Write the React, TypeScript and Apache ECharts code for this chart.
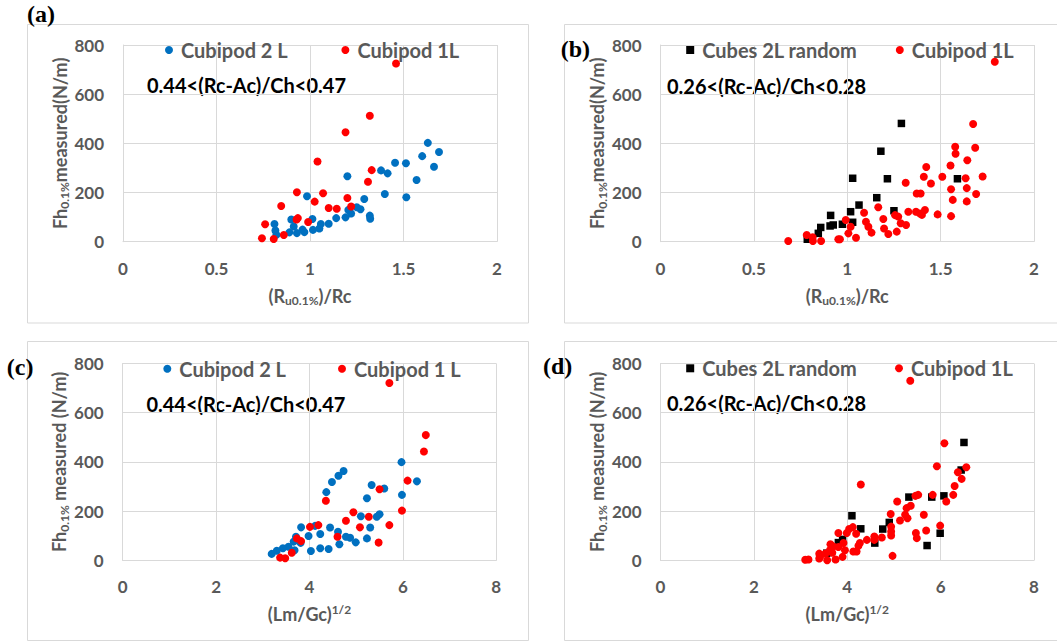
import React, { useEffect, useRef } from 'react';
import * as echarts from 'echarts';

const FONT = 'Lato, "Open Sans", sans-serif';
const GRAY = '#595959';
const GRID = '#d9d9d9';
const BLUE = '#0070C0';
const RED = '#FF0000';
const BLACK = '#000000';

// tick labels
const X_TICKS_RATIO = [0, 0.5, 1, 1.5, 2];
const X_TICKS_LM = [0, 2, 4, 6, 8];
const Y_TICKS = [0, 200, 400, 600, 800];

// legend / series names
const NAME_CUB2 = 'Cubipod 2 L';
const NAME_CUB1 = 'Cubipod 1L';
const NAME_CUB1_C = 'Cubipod 1 L';
const NAME_CUBES = 'Cubes 2L random';

const NOTE_A = '0.44<(Rc-Ac)/Ch<0.47';
const NOTE_B = '0.26<(Rc-Ac)/Ch<0.28';
const PANEL_LABELS = ['(a)', '(b)', '(c)', '(d)'];

// (a) Fh vs Ru/Rc, 0.44<(Rc-Ac)/Ch<0.47
const A_CUB2: [number, number][] = [
  [1.63, 402], [1.69, 365], [1.6, 348], [1.455, 321], [1.513, 319], [1.663, 305], [1.38, 290], [1.415, 278],
  [1.2, 266], [1.57, 251], [1.4, 194], [1.515, 181], [0.984, 185], [1.29, 174], [1.25, 140], [1.27, 132],
  [1.205, 129], [1.22, 115], [1.19, 99], [1.14, 96], [1.32, 106], [1.322, 93], [1.1, 73], [1.058, 72],
  [1.013, 92], [0.9, 90], [0.913, 62], [0.81, 72], [0.815, 46], [0.82, 28], [0.89, 38], [0.93, 35],
  [0.96, 49], [0.97, 39], [1.016, 48], [1.05, 54],
];
const A_CUB1: [number, number][] = [
  [1.46, 725], [1.32, 512], [1.19, 445], [1.04, 326], [1.33, 291], [1.31, 244], [0.93, 201], [1.07, 197],
  [1.025, 163], [1.2, 178], [0.846, 145], [1.1, 137], [1.143, 134], [1.22, 143], [0.935, 96], [0.928, 90],
  [0.99, 80], [0.76, 71], [0.86, 27], [0.743, 14], [0.806, 11],
];

// (b) Fh vs Ru/Rc, 0.26<(Rc-Ac)/Ch<0.28
const B_CUBES: [number, number][] = [
  [1.29, 481], [1.18, 368], [1.029, 258], [1.215, 256], [1.59, 256], [1.158, 179], [1.063, 149], [1.25, 126],
  [1.018, 122], [0.911, 107], [1.029, 79], [0.974, 71], [0.925, 68], [0.908, 64], [0.858, 58], [0.845, 34],
  [0.786, 10],
];
const B_CUB1: [number, number][] = [
  [1.79, 732], [1.674, 479], [1.578, 386], [1.58, 358], [1.685, 382], [1.643, 331], [1.423, 304], [1.553, 310],
  [1.41, 264], [1.509, 264], [1.725, 265], [1.634, 258], [1.313, 240], [1.448, 237], [1.556, 213], [1.64, 218],
  [1.372, 196], [1.393, 196], [1.69, 194], [1.565, 170], [1.64, 164], [1.09, 118], [1.166, 140], [1.327, 122],
  [1.368, 122], [1.39, 115], [1.416, 129], [1.4, 109], [1.484, 111], [1.556, 104], [1.256, 108], [1.273, 102],
  [1.286, 75], [1.193, 92], [1.1, 81], [1.113, 61], [1.13, 37], [1.315, 68], [1.197, 54], [1.265, 41],
  [1.22, 31], [0.992, 88], [1.018, 61], [1.006, 34], [1.047, 16], [0.952, 10], [0.961, 10], [0.86, 3],
  [0.815, 18], [0.783, 27], [0.816, 3], [0.684, 3],
];

// (c) Fh vs (Lm/Gc)^1/2, 0.44<(Rc-Ac)/Ch<0.47
const C_CUB2: [number, number][] = [
  [5.97, 399], [4.73, 363], [4.62, 344], [4.48, 318], [4.36, 277], [6.3, 321], [5.33, 306], [5.6, 292],
  [5.98, 266], [5.23, 252], [5.1, 179], [5.5, 187], [5.44, 177], [5.3, 133], [4.44, 133], [3.82, 134],
  [4.12, 140], [4.61, 116], [4.23, 107], [3.98, 99], [3.71, 96], [4.78, 96], [4.87, 92], [5.23, 89],
  [4.99, 73], [4.64, 65], [4.23, 49], [4.41, 46], [4.03, 38], [3.81, 71], [3.66, 76], [3.68, 41],
  [3.55, 55], [3.43, 49], [3.3, 39], [3.19, 26],
];
const C_CUB1: [number, number][] = [
  [5.71, 721], [6.49, 509], [6.45, 442], [6.1, 324], [5.5, 289], [4.35, 242], [5.98, 202], [4.94, 195],
  [4.78, 161], [5.27, 177], [5.08, 134], [5.71, 143], [4.19, 143], [4.01, 136], [4.6, 96], [5.48, 72],
  [3.73, 89], [3.82, 78], [3.62, 31], [3.37, 11], [3.48, 8],
];

// (d) Fh vs (Lm/Gc)^1/2, 0.26<(Rc-Ac)/Ch<0.28
const D_CUBES: [number, number][] = [
  [6.5, 479], [6.44, 367], [5.32, 257], [5.81, 257], [6.07, 262], [4.1, 181], [4.29, 128], [4.9, 154],
  [4.76, 127], [4.59, 70], [5.99, 110], [5.71, 60], [3.9, 85], [3.81, 72], [3.56, 29],
];
const D_CUB1: [number, number][] = [
  [5.35, 730], [6.08, 476], [5.92, 382], [6.55, 378], [6.37, 358], [6.45, 331], [4.29, 308], [6.3, 302],
  [6.27, 266], [5.52, 266], [5.46, 262], [5.83, 266], [6.12, 239], [5.07, 239], [5.36, 222], [5.27, 212],
  [5.24, 185], [5.29, 171], [5.64, 185], [4.93, 188], [5.13, 162], [5.99, 141], [4.94, 137], [4.94, 117],
  [4.94, 101], [5.47, 111], [5.49, 90], [5.69, 121], [4.74, 93], [4.58, 97], [4.58, 83], [4.42, 83],
  [4.27, 70], [4.24, 59], [4.13, 36], [4.2, 36], [3.92, 70], [3.99, 111], [4.04, 127], [4.12, 135],
  [4.19, 108], [3.81, 111], [3.7, 56], [3.81, 54], [3.63, 42], [3.68, 31], [3.9, 14], [3.75, 3],
  [3.57, 0], [3.4, 27], [3.42, 15], [3.4, 7], [3.17, 3], [3.1, 2], [3.53, 27], [3.95, 41],
  [4.97, 18], [3.64, 65],
];

const richName = {
  n: { fontSize: 18, fontWeight: 'bold', color: GRAY, fontFamily: FONT, lineHeight: 22 },
  s: { fontSize: 12, fontWeight: 'bold', color: GRAY, fontFamily: FONT, lineHeight: 12, verticalAlign: 'bottom' },
  p: { fontSize: 12, fontWeight: 'bold', color: GRAY, fontFamily: FONT, lineHeight: 12, verticalAlign: 'top' },
};

const grids = [
  { left: 123, top: 45, width: 374, height: 196.7 },
  { left: 660.5, top: 45, width: 373.5, height: 196.7 },
  { left: 122.7, top: 363.5, width: 373.6, height: 196.8 },
  { left: 660.5, top: 363.5, width: 373.5, height: 196.8 },
];

const xNames = [
  '{n|(R}{s|u0.1%}{n|)/Rc}',
  '{n|(R}{s|u0.1%}{n|)/Rc}',
  '{n|(Lm/Gc)}{p|1/2}',
  '{n|(Lm/Gc)}{p|1/2}',
];
const yNames = [
  '{n|Fh}{s|0.1%}{n|measured(N/m)}',
  '{n|Fh}{s|0.1%}{n|measured(N/m)}',
  '{n|Fh}{s|0.1%}{n| measured (N/m)}',
  '{n|Fh}{s|0.1%}{n| measured (N/m)}',
];
const xTicks = [X_TICKS_RATIO, X_TICKS_RATIO, X_TICKS_LM, X_TICKS_LM];

const labelStyle = { fontSize: 17, fontWeight: 'bold', color: GRAY, fontFamily: FONT };

function buildOption() {
  const xAxis = xTicks.map((t, i) => ({
    type: 'value',
    gridIndex: i,
    min: t[0],
    max: t[t.length - 1],
    interval: t[1] - t[0],
    axisLine: { show: true, lineStyle: { color: GRID } },
    axisTick: { show: false },
    splitLine: { show: true, lineStyle: { color: GRID, width: 1 } },
    axisLabel: { ...labelStyle, margin: 18 },
    name: xNames[i],
    nameLocation: 'middle',
    nameGap: 43,
    nameTextStyle: { rich: richName },
  }));
  const yAxis = grids.map((_, i) => ({
    type: 'value',
    gridIndex: i,
    min: Y_TICKS[0],
    max: Y_TICKS[Y_TICKS.length - 1],
    interval: Y_TICKS[1] - Y_TICKS[0],
    axisLine: { show: true, lineStyle: { color: GRID } },
    axisTick: { show: false },
    splitLine: { show: true, lineStyle: { color: GRID, width: 1 } },
    axisLabel: { ...labelStyle, margin: 19 },
    name: yNames[i],
    nameLocation: 'middle',
    nameGap: 52,
    nameTextStyle: { rich: richName },
  }));

  const sc = (name: string, data: [number, number][], idx: number, color: string, symbol: string, size: number) => ({
    type: 'scatter',
    name,
    xAxisIndex: idx,
    yAxisIndex: idx,
    data,
    symbol,
    symbolSize: size,
    itemStyle: { color, opacity: 1 },
    emphasis: { disabled: true },
  });

  const series = [
    sc(NAME_CUB2, A_CUB2, 0, BLUE, 'circle', 8),
    sc(NAME_CUB1, A_CUB1, 0, RED, 'circle', 8),
    sc(NAME_CUBES, B_CUBES, 1, BLACK, 'rect', 7.5),
    sc(NAME_CUB1, B_CUB1, 1, RED, 'circle', 8),
    sc(NAME_CUB2, C_CUB2, 2, BLUE, 'circle', 8),
    sc(NAME_CUB1_C, C_CUB1, 2, RED, 'circle', 8),
    sc(NAME_CUBES, D_CUBES, 3, BLACK, 'rect', 7.5),
    sc(NAME_CUB1, D_CUB1, 3, RED, 'circle', 8),
  ];

  const leg = (name: string, icon: string, left: number, top: number) => ({
    left,
    top,
    padding: 0,
    itemWidth: 8,
    itemHeight: 8,
    selectedMode: false,
    data: [{ name, icon }],
    textStyle: { fontSize: 20, fontWeight: 'bold', color: GRAY, fontFamily: FONT, lineHeight: 20, padding: [0, 0, 0, 3] },
  });
  const legend = [
    leg(NAME_CUB2, 'circle', 165, 40),
    leg(NAME_CUB1, 'circle', 341.4, 40),
    leg(NAME_CUBES, 'rect', 686.2, 40),
    leg(NAME_CUB1, 'circle', 895.8, 40),
    leg(NAME_CUB2, 'circle', 163.3, 358.7),
    leg(NAME_CUB1_C, 'circle', 338, 358.7),
    leg(NAME_CUBES, 'rect', 686.2, 358.3),
    leg(NAME_CUB1, 'circle', 895, 358.3),
  ];

  const frame = (x: number, y: number, w: number, h: number) => ({
    type: 'rect',
    silent: true,
    shape: { x, y, width: w, height: h },
    style: { fill: 'none', stroke: GRID, lineWidth: 1 },
  });
  const note = (text: string, x: number, y: number) => ({
    type: 'text',
    silent: true,
    x,
    y,
    style: { text, fill: BLACK, font: `bold 20px ${FONT}`, textVerticalAlign: 'middle', verticalAlign: 'middle' },
  });
  const plabel = (text: string, x: number, y: number) => ({
    type: 'text',
    silent: true,
    x,
    y,
    style: { text, fill: BLACK, font: 'bold 24px "Liberation Serif", "DejaVu Serif", serif', verticalAlign: 'middle' },
  });

  const graphic = [
    frame(27.5, 24.5, 501, 298.5),
    frame(564.5, 24.5, 500, 298.5),
    frame(27.5, 341.5, 501, 299),
    frame(564.5, 341.5, 500, 299),
    note(NOTE_A, 147, 85),
    note(NOTE_B, 667, 86),
    note(NOTE_A, 146.4, 404.3),
    note(NOTE_B, 667, 403.3),
    plabel(PANEL_LABELS[0], 27, 13.5),
    plabel(PANEL_LABELS[1], 560.7, 49.3),
    plabel(PANEL_LABELS[2], 6.8, 366.7),
    plabel(PANEL_LABELS[3], 543, 365.7),
  ];

  return {
    animation: false,
    backgroundColor: '#ffffff',
    grid: grids.map((g) => ({ ...g, containLabel: false })),
    xAxis,
    yAxis,
    legend,
    series,
    graphic,
  };
}

export default function App() {
  const ref = useRef<HTMLDivElement>(null);
  useEffect(() => {
    document.body.style.margin = '0';
    const chart = echarts.init(ref.current as HTMLDivElement, null, { renderer: 'svg' });
    chart.setOption(buildOption() as any);
    return () => chart.dispose();
  }, []);
  return <div ref={ref} style={{ width: 1057, height: 642 }} />;
}
